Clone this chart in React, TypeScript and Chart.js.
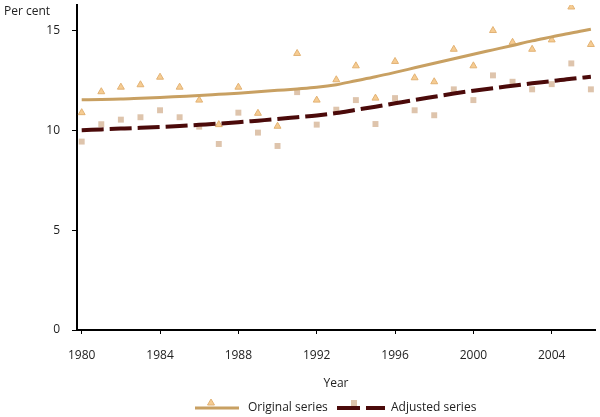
import React, { useEffect, useRef } from 'react';
import { Chart, registerables } from 'chart.js';

Chart.register(...registerables);

const years = [1980, 1981, 1982, 1983, 1984, 1985, 1986, 1987, 1988, 1989, 1990, 1991, 1992, 1993, 1994, 1995, 1996, 1997, 1998, 1999, 2000, 2001, 2002, 2003, 2004, 2005, 2006];
const originalSeries = [10.9, 11.95, 12.18, 12.3, 12.68, 12.18, 11.53, 10.3, 12.18, 10.87, 10.22, 13.87, 11.53, 12.55, 13.25, 11.63, 13.47, 12.65, 12.45, 14.08, 13.25, 15.02, 14.43, 14.08, 14.55, 16.2, 14.32];
const adjustedSeries = [9.45, 10.32, 10.55, 10.67, 11.02, 10.67, 10.2, 9.33, 10.9, 9.9, 9.23, 11.93, 10.3, 11.05, 11.53, 10.33, 11.63, 11.02, 10.77, 12.07, 11.53, 12.77, 12.45, 12.07, 12.33, 13.37, 12.07];
const originalTrend = [11.55, 11.56, 11.58, 11.62, 11.66, 11.71, 11.76, 11.82, 11.88, 11.95, 12.02, 12.09, 12.17, 12.3, 12.5, 12.7, 12.92, 13.15, 13.38, 13.6, 13.83, 14.05, 14.27, 14.5, 14.7, 14.9, 15.08];
const adjustedTrend = [10.02, 10.06, 10.1, 10.14, 10.18, 10.23, 10.29, 10.35, 10.42, 10.5, 10.58, 10.67, 10.76, 10.88, 11.04, 11.2, 11.37, 11.54, 11.7, 11.86, 12.0, 12.13, 12.25, 12.37, 12.48, 12.6, 12.7];
const xTicks = [1980, 1984, 1988, 1992, 1996, 2000, 2004];
const yTicks = [0, 5, 10, 15];
const legendLabels = ['Original series', 'Adjusted series'];
const yAxisLabel = 'Per cent';
const xAxisLabel = 'Year';

const FONT = "'Open Sans', 'Noto Sans', sans-serif";
const TAN = '#C8A062';
const MAROON = '#4B0A0A';
const TRI_FILL = '#F6CC92';
const TRI_STROKE = '#E2B274';
const SQ_FILL = '#DEC4AC';

const pts = (vals: number[]) => years.map((y, i) => ({ x: y, y: vals[i] }));

const extrasPlugin = {
  id: 'extras',
  afterDraw(chart: any) {
    const ctx = chart.ctx as CanvasRenderingContext2D;
    ctx.save();
    ctx.font = `12px ${FONT}`;
    ctx.fillStyle = '#222';
    ctx.textBaseline = 'middle';
    ctx.textAlign = 'left';
    ctx.fillText(yAxisLabel, 4, 12);

    const ly = 408;
    ctx.strokeStyle = TAN;
    ctx.lineWidth = 3;
    ctx.setLineDash([]);
    ctx.beginPath();
    ctx.moveTo(195, ly);
    ctx.lineTo(239, ly);
    ctx.stroke();
    ctx.fillStyle = TRI_FILL;
    ctx.strokeStyle = TRI_STROKE;
    ctx.lineWidth = 1;
    ctx.beginPath();
    ctx.moveTo(211, 399);
    ctx.lineTo(214.5, 405);
    ctx.lineTo(207.5, 405);
    ctx.closePath();
    ctx.fill();
    ctx.stroke();
    ctx.fillStyle = '#222';
    ctx.fillText(legendLabels[0], 248, ly);

    ctx.fillStyle = SQ_FILL;
    ctx.fillRect(351, 400, 6, 6);
    ctx.strokeStyle = MAROON;
    ctx.lineWidth = 4;
    ctx.beginPath();
    ctx.moveTo(337, ly);
    ctx.lineTo(360, ly);
    ctx.moveTo(366, ly);
    ctx.lineTo(385, ly);
    ctx.stroke();
    ctx.fillStyle = '#222';
    ctx.fillText(legendLabels[1], 391, ly);
    ctx.restore();
  },
};

export default function App() {
  const ref = useRef<HTMLCanvasElement | null>(null);

  useEffect(() => {
    document.body.style.margin = '0';
    Chart.defaults.font.family = FONT;
    Chart.defaults.font.size = 12;
    Chart.defaults.color = '#222';
    const canvas = ref.current;
    if (!canvas) return;
    const chart = new Chart(canvas, {
      type: 'line',
      data: {
        datasets: [
          {
            label: legendLabels[0] + ' trend',
            data: pts(originalTrend),
            borderColor: TAN,
            borderWidth: 3,
            pointRadius: 0,
            tension: 0.4,
            cubicInterpolationMode: 'monotone',
            fill: false,
          },
          {
            label: legendLabels[1] + ' trend',
            data: pts(adjustedTrend),
            borderColor: MAROON,
            borderWidth: 4,
            borderDash: [22, 6],
            pointRadius: 0,
            tension: 0.4,
            cubicInterpolationMode: 'monotone',
            fill: false,
          },
          {
            label: legendLabels[0],
            data: pts(originalSeries),
            showLine: false,
            pointStyle: 'triangle',
            pointRadius: 4,
            pointBackgroundColor: TRI_FILL,
            pointBorderColor: TRI_STROKE,
            pointBorderWidth: 1,
          },
          {
            label: legendLabels[1],
            data: pts(adjustedSeries),
            showLine: false,
            pointStyle: 'rect',
            pointRadius: 4.2,
            pointBackgroundColor: SQ_FILL,
            pointBorderColor: SQ_FILL,
            pointBorderWidth: 0,
          },
        ],
      } as any,
      options: {
        responsive: false,
        animation: false,
        layout: { padding: { top: 4, right: 3, left: 0, bottom: 0 } },
        plugins: {
          legend: { display: false },
          tooltip: { enabled: false },
        },
        scales: {
          x: {
            type: 'linear',
            min: 1979.76,
            max: 2006.21,
            afterBuildTicks: (s: any) => {
              s.ticks = xTicks.map((v) => ({ value: v }));
            },
            afterFit: (s: any) => {
              s.height = 87;
              s.paddingLeft = 0;
              s.paddingRight = 0;
              s.paddingTop = 0;
              s.paddingBottom = 0;
            },
            ticks: {
              callback: (v: any) => String(v),
              padding: 14,
              maxRotation: 0,
              autoSkip: false,
              color: '#222',
              font: { size: 12, family: FONT },
            },
            grid: { drawOnChartArea: false, drawTicks: true, tickLength: 4, color: '#000', lineWidth: 1 },
            border: { display: true, color: '#000', width: 2 },
            title: {
              display: true,
              text: xAxisLabel,
              color: '#222',
              font: { size: 12, family: FONT },
              padding: { top: 0, bottom: 26 },
            },
          },
          y: {
            type: 'linear',
            min: 0,
            max: 16.3,
            afterBuildTicks: (s: any) => {
              s.ticks = yTicks.map((v) => ({ value: v }));
            },
            afterFit: (s: any) => {
              s.width = 77;
              s.paddingLeft = 0;
              s.paddingRight = 0;
              s.paddingTop = 0;
              s.paddingBottom = 0;
            },
            ticks: {
              padding: 12,
              color: '#222',
              font: { size: 12, family: FONT },
            },
            grid: { drawOnChartArea: false, drawTicks: true, tickLength: 5, color: '#000', lineWidth: 1 },
            border: { display: true, color: '#000', width: 2 },
          },
        },
      } as any,
      plugins: [extrasPlugin],
    });
    return () => chart.destroy();
  }, []);

  return (
    <div style={{ width: 600, height: 417 }}>
      <canvas ref={ref} width={600} height={417} style={{ display: 'block' }} />
    </div>
  );
}
